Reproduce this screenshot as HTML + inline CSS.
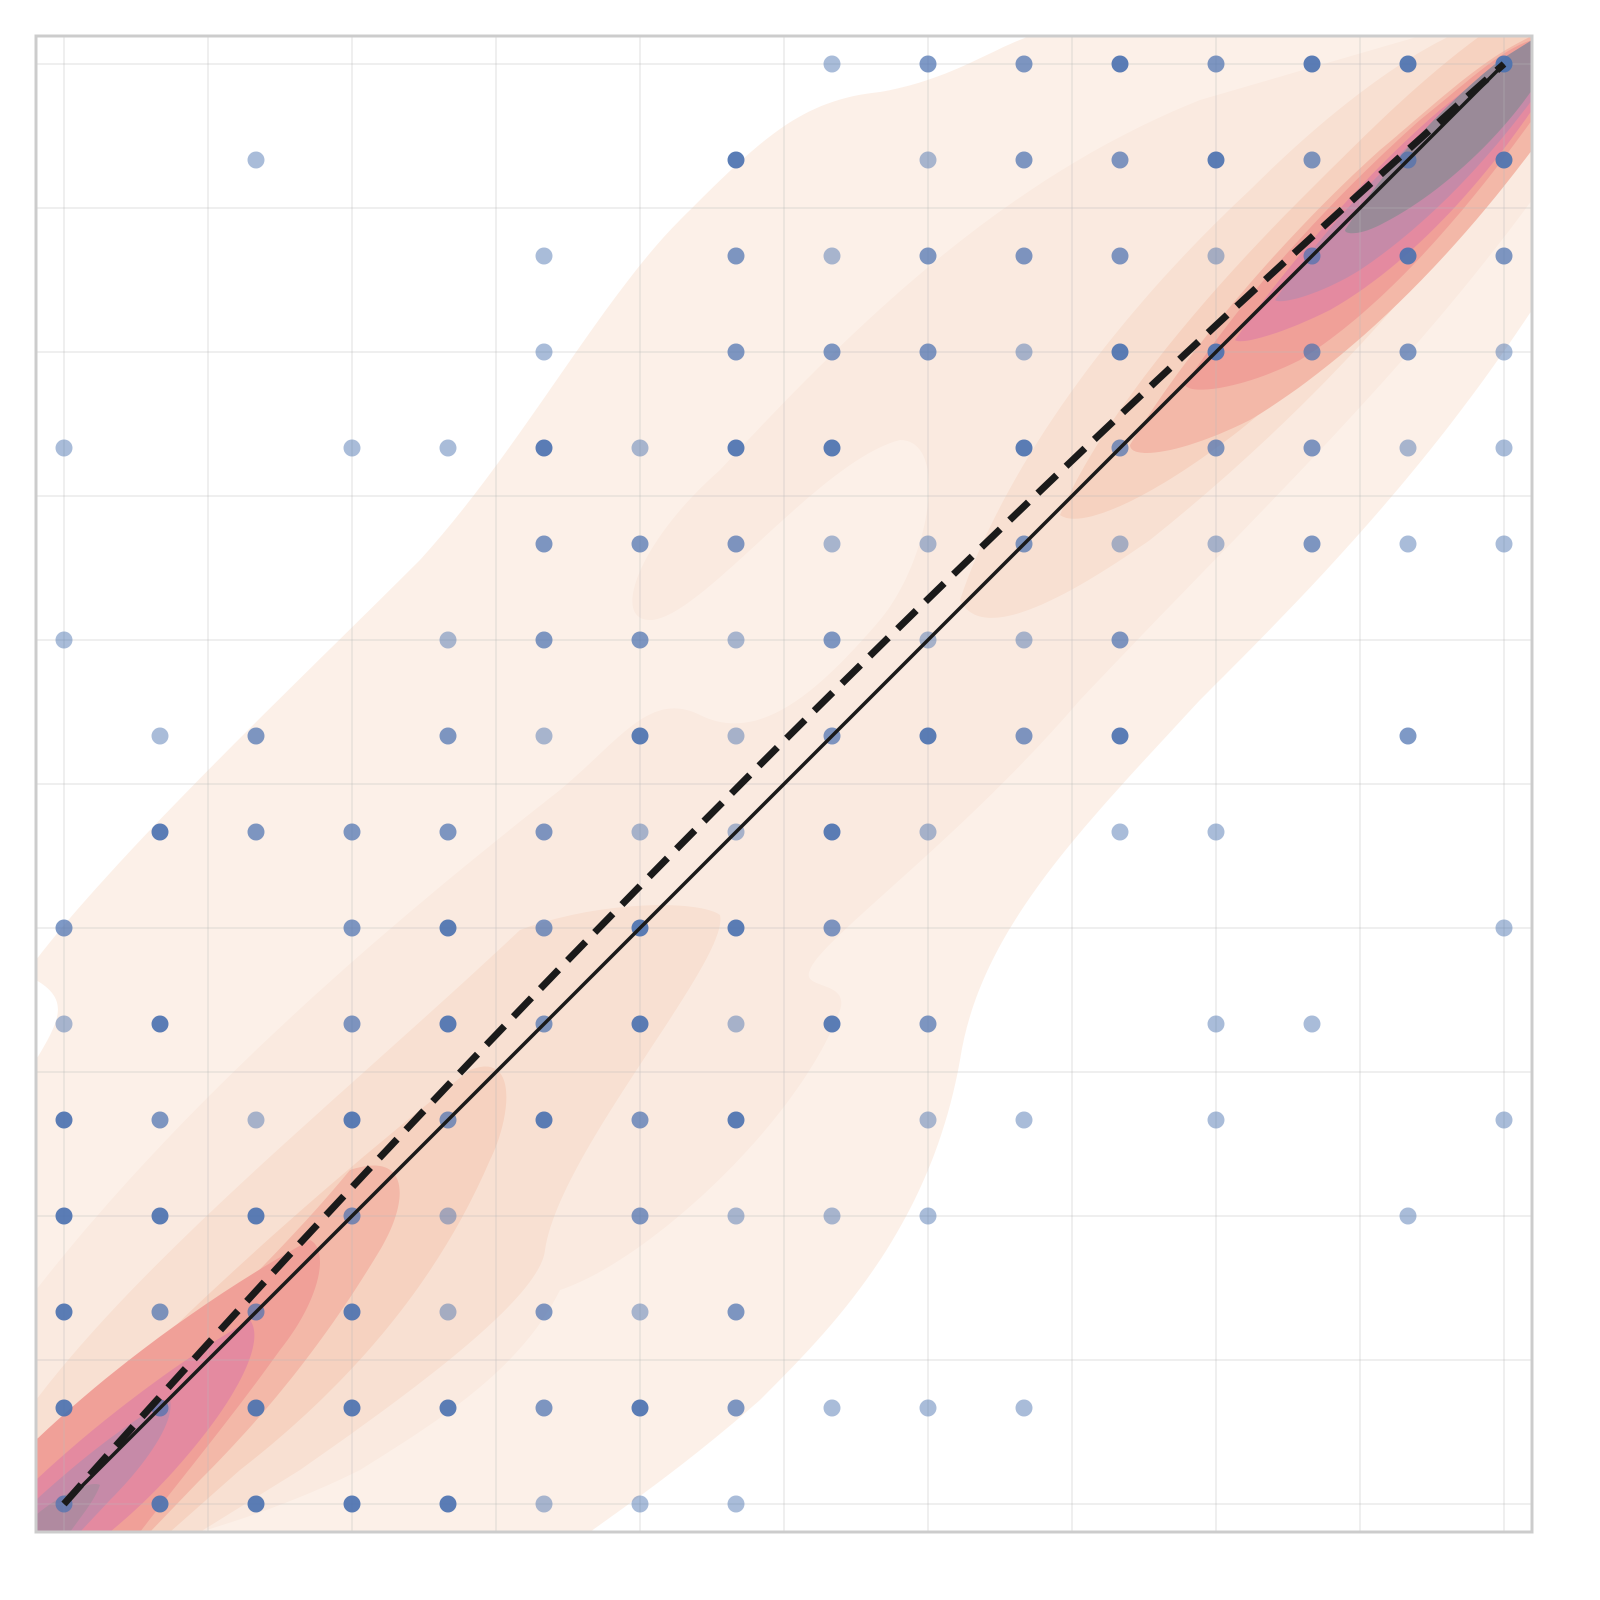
<!DOCTYPE html>
<html><head><meta charset="utf-8"><style>
html,body{margin:0;padding:0;background:#fff;width:1600px;height:1600px;overflow:hidden}
svg{display:block;position:absolute;left:0;top:0}
</style></head><body>
<svg id="chart" width="1600" height="1600" viewBox="0 0 1600 1600" xmlns="http://www.w3.org/2000/svg">
<defs><clipPath id="plotclip"><rect x="36" y="36" width="1496" height="1496"/></clipPath></defs>
<rect x="0" y="0" width="1600" height="1600" fill="#fff"/>
<g id="density" clip-path="url(#plotclip)">
<path fill="#fcf0e8" d="M36,960 C120,850 300,680 420,560 C520,450 600,300 680,220 C760,140 800,100 880,92 C950,80 990,50 1030,36 L1532,36 L1532,310 C1420,480 1300,600 1200,700 C1080,830 980,930 960,1060 C930,1230 830,1330 760,1400 C680,1470 620,1510 590,1532 L36,1532 L36,1060 C60,1020 70,1000 36,980 Z"/>
<path fill="#faeae0" d="M36,1290 C200,1080 420,900 560,790 C620,740 650,690 700,715 C760,745 820,690 880,620 C930,560 950,440 900,440 C820,460 700,620 650,620 C610,620 640,540 720,470 C850,330 1000,180 1200,100 L1420,36 L1532,36 L1532,200 C1400,380 1250,520 1080,700 C960,840 820,940 810,970 C800,990 850,980 840,1010 C800,1120 650,1260 560,1290 C520,1370 440,1420 360,1470 C300,1500 240,1520 200,1532 L36,1532 Z"/>
<path fill="#f8e0d2" d="M36,1400 C150,1250 350,1090 520,930 C600,900 700,900 720,915 C730,960 560,1150 545,1250 C540,1300 400,1400 300,1470 L200,1532 L36,1532 Z"/>
<path fill="#f8e0d2" d="M960,600 C1000,480 1100,330 1250,190 C1330,110 1400,60 1450,36 L1532,36 L1532,130 C1430,280 1300,420 1150,540 C1050,610 980,640 960,600 Z"/>
<path fill="#f6d2c0" d="M36,1470 C160,1330 330,1180 470,1070 C520,1050 510,1120 490,1160 C430,1300 330,1400 240,1470 L170,1532 L36,1532 Z"/>
<path fill="#f6d2c0" d="M1060,515 C1100,420 1200,300 1300,200 C1370,130 1420,80 1480,36 L1532,36 L1532,90 C1450,230 1340,350 1240,430 C1150,500 1080,530 1060,515 Z"/>
<path fill="#f3b8a8" d="M36,1500 C120,1400 260,1280 350,1170 C410,1150 410,1200 380,1250 C320,1350 260,1420 200,1480 L150,1532 L36,1532 Z"/>
<path fill="#f3b8a8" d="M1130,445 C1180,360 1280,240 1380,150 C1440,100 1480,60 1532,36 L1532,150 C1450,260 1350,360 1250,420 C1180,455 1130,460 1130,445 Z"/>
<path fill="#f0a098" d="M36,1532 L36,1440 C120,1360 220,1290 310,1240 C330,1250 320,1300 280,1350 C230,1420 180,1480 140,1532 Z"/>
<path fill="#f0a098" d="M1185,385 C1240,300 1330,200 1420,120 C1470,80 1500,50 1532,40 L1532,120 C1460,220 1380,310 1300,360 C1240,390 1190,395 1185,385 Z"/>
<path fill="#e48aa0" d="M36,1532 L36,1480 C100,1420 180,1360 250,1320 C265,1340 240,1390 200,1440 C160,1490 130,1515 110,1532 Z"/>
<path fill="#e48aa0" d="M1235,340 C1290,260 1370,170 1440,110 C1490,70 1515,50 1532,45 L1532,110 C1470,200 1400,270 1330,310 C1280,335 1240,345 1235,340 Z"/>
<path fill="#c68aa8" d="M36,1532 L36,1500 C80,1460 130,1420 170,1400 C175,1420 150,1460 110,1500 L80,1532 Z"/>
<path fill="#c68aa8" d="M1275,300 C1330,220 1400,150 1460,100 C1500,65 1520,50 1532,48 L1532,100 C1480,170 1420,230 1360,270 C1320,295 1280,305 1275,300 Z"/>
<path fill="#9a8a98" d="M1345,230 C1390,160 1450,100 1500,60 L1532,40 L1532,90 C1490,150 1430,200 1380,225 C1360,235 1345,235 1345,230 Z"/>
<path fill="#b08aa0" d="M36,1532 L36,1515 C60,1495 90,1480 100,1485 C95,1500 80,1518 70,1532 Z"/>
</g>
<g id="grid"></g>
<g id="points"></g>
<g id="lines"></g>
<rect x="36" y="36" width="1496" height="1496" fill="none" stroke="#cccccc" stroke-width="3"/>
</svg>
<script>
const gridTicks = [0, 1.5, 3, 4.5, 6, 7.5, 9, 10.5, 12, 13.5, 15];
const pointX = [
8,9,10,11,12,13,14,15,
2,7,9,10,11,12,13,14,15,
5,7,8,9,10,11,12,13,14,15,
5,7,8,9,10,11,12,13,14,15,
0,3,4,5,6,7,8,10,11,12,13,14,15,
5,6,7,8,9,10,11,12,13,14,15,
0,4,5,6,7,8,9,10,11,
1,2,4,5,6,7,8,9,10,11,14,
1,2,3,4,5,6,7,8,9,11,12,
0,3,4,5,6,7,8,15,
0,1,3,4,5,6,7,8,9,12,13,
0,1,2,3,4,5,6,7,9,10,12,15,
0,1,2,3,4,6,7,8,9,14,
0,1,2,3,4,5,6,7,
0,1,2,3,4,5,6,7,8,9,10,
0,1,2,3,4,5,6,7];
const pointY = [
15,15,15,15,15,15,15,15,
14,14,14,14,14,14,14,14,14,
13,13,13,13,13,13,13,13,13,13,
12,12,12,12,12,12,12,12,12,12,
11,11,11,11,11,11,11,11,11,11,11,11,11,
10,10,10,10,10,10,10,10,10,10,10,
9,9,9,9,9,9,9,9,9,
8,8,8,8,8,8,8,8,8,8,8,
7,7,7,7,7,7,7,7,7,7,7,
6,6,6,6,6,6,6,6,
5,5,5,5,5,5,5,5,5,5,5,
4,4,4,4,4,4,4,4,4,4,4,4,
3,3,3,3,3,3,3,3,3,3,
2,2,2,2,2,2,2,2,
1,1,1,1,1,1,1,1,1,1,1,
0,0,0,0,0,0,0,0];
// intensity: 3 = dark, 2 = mid, 1 = light
const pointLevel = [
1,2,2,3,2,3,3,3,
1,3,1,2,2,3,2,2,3,
1,2,1,2,2,2,1,2,3,2,
1,2,2,2,1,3,3,2,2,1,
1,1,1,3,1,3,3,3,2,2,2,1,1,
2,2,2,1,1,2,1,1,2,1,1,
1,1,2,2,1,2,1,1,2,
1,2,2,1,3,1,2,3,2,3,2,
3,2,2,2,2,1,1,3,1,1,1,
2,2,3,2,3,3,2,1,
1,3,2,3,2,3,1,3,2,1,1,
3,2,1,3,2,3,2,3,1,1,1,1,
3,3,3,2,1,2,1,1,1,1,
3,2,2,3,1,2,1,2,
3,2,3,3,3,2,3,2,1,1,1,
2,3,3,3,3,1,1,1];
const lineStart = [0, 0];
const lineEnd = [15, 15];
const dashBend = 0.45;

const NS = 'http://www.w3.org/2000/svg';
const X0 = 64, Y0 = 1504, UNIT = 96;
const sx = v => X0 + v * UNIT;
const sy = v => Y0 - v * UNIT;
const levelOpacity = {3: 0.92, 2: 0.72, 1: 0.48};

const grid = document.getElementById('grid');
gridTicks.forEach(t => {
  const v = document.createElementNS(NS, 'line');
  
  
  v.setAttribute('x1', sx(t)); v.setAttribute('x2', sx(t));
  v.setAttribute('y1', 36); v.setAttribute('y2', 1532);
  v.setAttribute('stroke', '#b8b8b8'); v.setAttribute('stroke-opacity', '0.45'); v.setAttribute('stroke-width', '1');
  grid.appendChild(v);
  const h = document.createElementNS(NS, 'line');
  
  
  h.setAttribute('y1', sy(t)); h.setAttribute('y2', sy(t));
  h.setAttribute('x1', 36); h.setAttribute('x2', 1532);
  h.setAttribute('stroke', '#b8b8b8'); h.setAttribute('stroke-opacity', '0.45'); h.setAttribute('stroke-width', '1');
  grid.appendChild(h);
});

const pts = document.getElementById('points');
pointX.forEach((x, i) => {
  const c = document.createElementNS(NS, 'circle');
  
  
  c.setAttribute('cx', sx(x)); c.setAttribute('cy', sy(pointY[i]));
  c.setAttribute('r', 8.5);
  c.setAttribute('fill', '#4c72b0');
  c.setAttribute('fill-opacity', levelOpacity[pointLevel[i]]);
  pts.appendChild(c);
});

const lines = document.getElementById('lines');
const solid = document.createElementNS(NS, 'line');


solid.setAttribute('x1', sx(lineStart[0])); solid.setAttribute('y1', sy(lineStart[1]));
solid.setAttribute('x2', sx(lineEnd[0])); solid.setAttribute('y2', sy(lineEnd[1]));
solid.setAttribute('stroke', '#1a1a1a'); solid.setAttribute('stroke-width', '3.5');
lines.appendChild(solid);

const mx = (lineStart[0] + lineEnd[0]) / 2 - dashBend;
const my = (lineStart[1] + lineEnd[1]) / 2 + dashBend;
const dashed = document.createElementNS(NS, 'path');


dashed.setAttribute('d', 'M' + sx(lineStart[0]) + ',' + sy(lineStart[1]) + ' Q' + sx(mx) + ',' + sy(my) + ' ' + sx(lineEnd[0]) + ',' + sy(lineEnd[1]));
dashed.setAttribute('fill', 'none');
dashed.setAttribute('stroke', '#1a1a1a'); dashed.setAttribute('stroke-width', '7');
dashed.setAttribute('stroke-dasharray', '26 13');
lines.appendChild(dashed);
</script>
</body></html>
